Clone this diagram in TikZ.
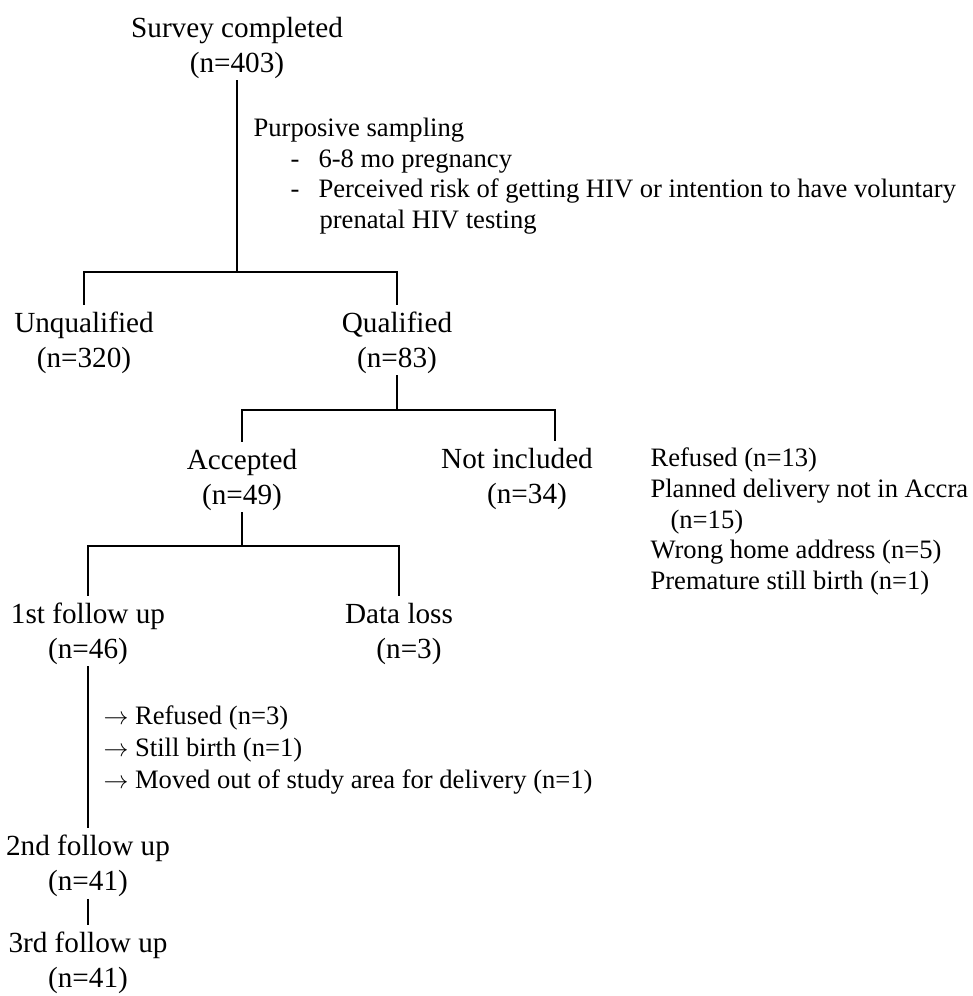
\documentclass[tikz,border=0pt]{standalone}
\usepackage{fontspec}
\setmainfont{Liberation Serif}
\usetikzlibrary{positioning}
\tikzset{
count_box/.style={
	% No border, the text alone:
	inner sep=0pt,
	outer sep=2pt,
	% Two centred lines
	align=center,
	% Font
	font=\fontsize{29.2}{35}\selectfont
},
note_box/.style={
	% No border, the text alone:
	inner sep=0pt,
	% Placed by its left edge
	anchor=west,
	align=left,
	% Font
	font=\fontsize{26.6}{30.6}\selectfont
},
branch/.style={shorten >=5pt}
}
\begin{document}
\begin{tikzpicture}[x=1pt, y=-1pt, line width=1.1pt]
\useasboundingbox (0,0) rectangle (972,996);
% counts
\node[count_box] (survey) at (237,47.5) {Survey completed\\(n=403)};
\node[count_box] (unq) at (84,342.5) {Unqualified\\(n=320)};
\node[count_box] (qual) at (397,342.5) {Qualified\\(n=83)};
\node[count_box] (acc) at (242,479.5) {Accepted\\(n=49)};
\node[count_box] (notinc) at (517,479) {Not included\\\hspace*{20pt}(n=34)};
\node[count_box] (fu1) at (88,633.5) {1st follow up\\(n=46)};
\node[count_box] (dloss) at (399,633.5) {Data loss\\\hspace*{20pt}(n=3)};
\node[count_box] (fu2) at (88,866) {2nd follow up\\(n=41)};
\node[count_box] (fu3) at (88,963) {3rd follow up\\(n=41)};
% notes
\node[note_box] (crit) at (253,176) {Purposive sampling\\
	\hspace*{37pt}\makebox[28pt][l]{-}6-8 mo pregnancy\\
	\hspace*{37pt}\makebox[28pt][l]{-}Perceived risk of getting HIV or intention to have voluntary\\
	\hspace*{66pt}prenatal HIV testing};
\node[note_box] (why) at (650,521.5) {Refused (n=13)\\
	Planned delivery not in Accra\\
	\hspace*{20pt}(n=15)\\
	Wrong home address (n=5)\\
	Premature still birth (n=1)};
\node[note_box, font=\fontsize{26.6}{32}\selectfont] (lost) at (103,750) {$\rightarrow$ Refused (n=3)\\
	$\rightarrow$ Still birth (n=1)\\
	$\rightarrow$ Moved out of study area for delivery (n=1)};
% splits
\coordinate (split1) at (237,272);
\coordinate (split2) at (397,410);
\coordinate (split3) at (242,546);
\draw (survey) -- (split1);
\draw[branch] (split1) -| (unq);
\draw[branch] (split1) -| (qual);
\draw (qual) -- (split2);
\draw[branch] (split2) -| (acc);
\draw[branch] (split2) -| ([xshift=38pt]notinc.north);
\draw (acc) -- (split3);
\draw[branch] (split3) -| (fu1);
\draw[branch] (split3) -| (dloss);
\draw[branch] (fu1) -- (fu2);
\draw[branch] (fu2) -- (fu3);
\end{tikzpicture}
\end{document}
